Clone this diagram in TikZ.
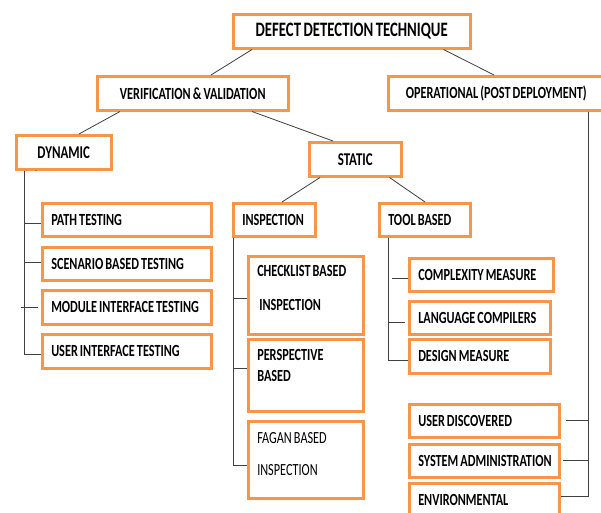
\documentclass[tikz,border=0pt]{standalone}
\usepackage{fontspec}
\setmainfont{Carlito}[FakeStretch=0.72, WordSpace=0.75]
\definecolor{boxorange}{HTML}{F79646}
\definecolor{linegray}{HTML}{404040}

\begin{document}
\begin{tikzpicture}[x=1pt,y=-1pt]
\tikzstyle{box}=[
	draw=boxorange,
	line width=2.5pt,
	anchor=north west,
	inner sep=0pt ]
\tikzstyle{head}=[box, align=center, font=\bfseries\fontsize{17}{19}\selectfont]
\tikzstyle{leaf}=[box, align=left, inner xsep=9pt,
	execute at begin node={\spaceskip=0pt\xspaceskip=0pt},
	font=\bfseries\fontsize{17}{19}\selectfont]
\tikzstyle{conn}=[draw=linegray, line width=0.8pt]
\clip (0,0) rectangle (601,512);
\fill[white] (0,0) rectangle (601,512);

% top levels
\node[head, minimum width=237pt, minimum height=34pt, font=\bfseries\fontsize{20.5}{22}\selectfont] (ddt) at (232,13) {DEFECT DETECTION TECHNIQUE};
\node[head, minimum width=191pt, minimum height=34pt] (vv) at (96,75) {VERIFICATION \& VALIDATION};
\node[head, minimum width=216pt, minimum height=34pt] (op) at (387,75) {OPERATIONAL (POST DEPLOYMENT)};
\node[head, minimum width=95pt, minimum height=34pt, font=\bfseries\fontsize{18}{19}\selectfont] (dyn) at (15,134) {DYNAMIC};
\node[head, minimum width=92pt, minimum height=34pt, font=\bfseries\fontsize{18}{19}\selectfont] (stat) at (308,141) {STATIC};
\node[font=\fontsize{8}{8}\selectfont, inner sep=0pt] (dot) at (36,171) {.};

\draw[conn] ([xshift=20pt]ddt.south west) -- ([xshift=115pt]vv.north west);
\draw[conn] ([xshift=-28pt]ddt.south east) -- ([xshift=107pt]op.north west);
\draw[conn] ([xshift=24pt]vv.south west) -- ([xshift=64pt]dyn.north west);
\draw[conn] ([xshift=156pt]vv.south west) -- ([xshift=25pt]stat.north west);

% static
\node[leaf, text width=64pt, minimum height=33pt] (insp) at (232,202) {\mbox{INSPECTION}};
\node[leaf, text width=73pt, minimum height=33pt] (tool) at (378,202) {\mbox{TOOL BASED}};
\draw[conn] ([xshift=12pt]stat.south west) -- ([xshift=50pt]insp.north west);
\draw[conn] ([xshift=-13pt]stat.south east) -- ([xshift=47pt]tool.north west);

% dynamic leaves
\node[leaf, text width=151pt, minimum height=33pt] (path) at (41,202) {\mbox{PATH TESTING}};
\node[leaf, text width=151pt, minimum height=33pt] (scen) at (41,246) {\mbox{SCENARIO BASED TESTING}};
\node[leaf, text width=151pt, minimum height=34pt] (mod) at (41,289) {\mbox{MODULE INTERFACE TESTING}};
\node[leaf, text width=151pt, minimum height=34pt] (ui) at (41,333) {\mbox{USER INTERFACE TESTING}};
\draw[conn] ([xshift=9pt]dyn.south west) |- ([yshift=-4pt]path.west);
\draw[conn] ([xshift=9pt]dyn.south west) |- ([yshift=1pt]scen.west);
\draw[conn] ([xshift=9pt]dyn.south west) |- ([yshift=-3pt]ui.west);
\draw[conn] ([xshift=-20pt]mod.west) -- ([xshift=-3pt]mod.west);

% inspection leaves
\node[leaf, text width=97pt, minimum height=78pt] (check) at (247,255) {\mbox{CHECKLIST BASED}\\[15pt]\hspace{2pt}INSPECTION\rule[-14pt]{0pt}{0pt}};
\node[leaf, text width=97pt, minimum height=72pt] (persp) at (247,338) {PERSPECTIVE\\[2pt]BASED\rule[-20pt]{0pt}{0pt}};
\node[leaf, text width=97pt, minimum height=77pt, font=\fontsize{17}{19}\selectfont] (fagan) at (247,420) {\mbox{FAGAN BASED}\\[13pt]INSPECTION\rule[-12pt]{0pt}{0pt}};
\draw[conn] ([xshift=1pt]insp.south west) |- ([yshift=-3pt]check.west);
\draw[conn] ([xshift=1pt]insp.south west) |- ([yshift=7pt]persp.west);
\draw[conn] ([xshift=1pt]insp.south west) |- ([yshift=-6pt]fagan.west);

% tool leaves
\node[leaf, text width=126pt, minimum height=33pt] (cplx) at (408,257) {\mbox{COMPLEXITY MEASURE}};
\node[leaf, text width=123pt, minimum height=33pt] (lang) at (408,300) {\mbox{LANGUAGE COMPILERS}};
\node[leaf, text width=123pt, minimum height=34pt] (dsgn) at (408,338) {\mbox{DESIGN MEASURE}};
\draw[conn] ([xshift=10pt]tool.south west) |- ([yshift=-4pt]dsgn.west);
\draw[conn] ([xshift=-16pt,yshift=-4pt]cplx.west) -- ([yshift=-4pt]cplx.west);
\draw[conn] ([xshift=10pt]tool.south west) |- ([xshift=-3pt,yshift=-5pt]lang.west);

% operational leaves
\node[leaf, text width=132pt, minimum height=33pt] (user) at (408,403) {\mbox{USER DISCOVERED}};
\node[leaf, text width=132pt, minimum height=33pt] (sys) at (408,443) {\mbox{SYSTEM ADMINISTRATION}};
\node[leaf, text width=132pt, minimum height=33pt] (env) at (408,482) {\mbox{ENVIRONMENTAL}};
\draw[conn] ([xshift=201pt]op.south west) |- ([yshift=3pt]env.east);
\draw[conn] ([xshift=201pt]op.south west) |- ([xshift=5pt]user.east);
\draw[conn] ([xshift=201pt]op.south west) |- ([xshift=2pt]sys.east);
\end{tikzpicture}
\end{document}
